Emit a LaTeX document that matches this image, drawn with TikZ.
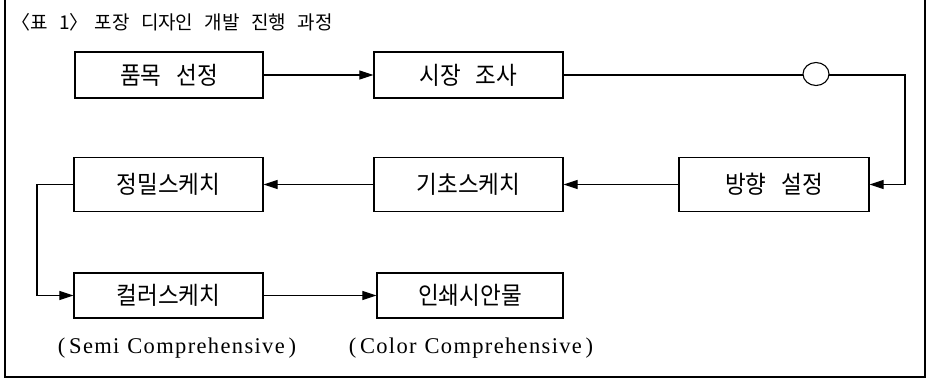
\documentclass[tikz,border=0pt]{standalone}
\usepackage{fontspec}
\setmainfont{Liberation Serif}
\newfontfamily\kr[FakeStretch=0.92]{Noto Sans CJK KR}
\newfontfamily\krt{Noto Sans CJK KR}
\newfontfamily\enser[LetterSpace=6]{Liberation Serif}
\usetikzlibrary{arrows.meta,shapes.geometric}
\tikzset{
  stepbox/.style={draw, line width=1.3pt, inner sep=0pt, font=\kr\fontsize{24.5}{28}\selectfont},
  arr/.style={line width=1.2pt, -{Triangle[length=14pt,width=9pt]}},
  frame/.style={line width=1.4pt},
  note/.style={font=\enser\fontsize{22.5}{26}\selectfont},
}
\begin{document}
\begin{tikzpicture}[x=1pt,y=-1pt]
\useasboundingbox (0,0) rectangle (932,381);
\draw[frame] (5,0) -- (5,377) -- (925,377) -- (925,0);
\node[anchor=west, font=\krt\fontsize{19}{22}\selectfont] (title) at (8,22) {〈표\hspace{0.6em}1〉\hspace{0.3em}포장\hspace{0.6em}디자인\hspace{0.6em}개발\hspace{0.6em}진행\hspace{0.6em}과정};
\node[stepbox, minimum width=188pt, minimum height=46pt] (a) at (169,75) {품목\hspace{0.6em}선정};
\node[stepbox, minimum width=189pt, minimum height=46pt] (b) at (468.5,75) {시장\hspace{0.6em}조사};
\node[stepbox, minimum width=190pt, minimum height=54pt] (c) at (774,184.5) {방향\hspace{0.6em}설정};
\node[stepbox, minimum width=189pt, minimum height=54pt] (d) at (468.5,184.5) {기초스케치};
\node[stepbox, minimum width=189pt, minimum height=54pt] (e) at (168.5,184.5) {정밀스케치};
\node[stepbox, minimum width=189pt, minimum height=45pt] (f) at (168.5,295.5) {컬러스케치};
\node[stepbox, minimum width=186pt, minimum height=45pt] (g) at (470,295.5) {인쇄시안물};
\coordinate (rt) at (905,0);
\coordinate (lf) at (37,0);
\draw[arr] (a.east) -- (b.west);
\draw[arr] (b.east) -- (b.east -| rt) |- (c.east);
\node[draw, ellipse, line width=1.1pt, fill=white, minimum width=26pt, minimum height=23pt, inner sep=0pt] (ring) at (816,74) {};
\draw[arr] (c.west) -- (d.east);
\draw[arr] (d.west) -- (e.east);
\draw[arr] (e.west) -- (e.west -| lf) |- (f.west);
\draw[arr] (f.east) -- (g.west);
\node[note] (n1) at (177,348) {(\,Semi\hspace{0.35em}Comprehensive\,)};
\node[note] (n2) at (471,348) {(\,Color\hspace{0.35em}Comprehensive\,)};
\end{tikzpicture}
\end{document}
